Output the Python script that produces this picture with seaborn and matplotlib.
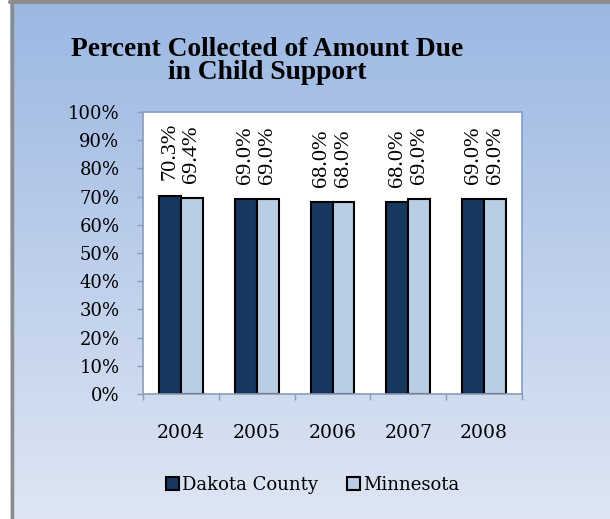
import numpy as np
import pandas as pd
import matplotlib
matplotlib.use("Agg")
import matplotlib.pyplot as plt
from matplotlib.patches import Patch
import seaborn as sns

# Collection rates, percent of amount due
years = ["2004", "2005", "2006", "2007", "2008"]
dakota = [70.3, 69.0, 68.0, 68.0, 69.0]
minnesota = [69.4, 69.0, 68.0, 69.0, 69.0]
series_names = ["Dakota County", "Minnesota"]
y_ticks = [0, 10, 20, 30, 40, 50, 60, 70, 80, 90, 100]

df = pd.DataFrame({
    "Year": years * 2,
    "Percent": dakota + minnesota,
    "Area": [series_names[0]] * len(years) + [series_names[1]] * len(years),
})

sns.set_theme(style="white")
plt.rcParams["font.family"] = ["DejaVu Serif"]
plt.rcParams["text.color"] = "black"
plt.rcParams["xtick.color"] = "black"
plt.rcParams["ytick.color"] = "black"

W, H = 610, 519
fig = plt.figure(figsize=(W / 100, H / 100), dpi=100)
fig.patch.set_facecolor("white")

# Gradient chart background with a gray frame on the top and left
bg = fig.add_axes([10 / W, 0, 1 - 10 / W, 1])
top_c = np.array([155, 183, 227]) / 255
bot_c = np.array([222, 230, 243]) / 255
t = np.linspace(0, 1, 256)[:, None]
grad = top_c[None, None, :] * (1 - t[..., None]) + bot_c[None, None, :] * t[..., None]
grad = np.repeat(grad, 2, axis=1)
bg.imshow(grad, aspect="auto", extent=[0, 1, 0, 1], origin="upper")
bg.set_xlim(0, 1)
bg.set_ylim(0, 1)
bg.axis("off")
fig.add_artist(plt.Line2D([11.5 / W, 11.5 / W], [0, 1], transform=fig.transFigure,
                          color="#8c8c8c", lw=2.5))
fig.add_artist(plt.Line2D([10 / W, 1], [1 - 1.5 / H, 1 - 1.5 / H], transform=fig.transFigure,
                          color="#8c8c8c", lw=3))

ax = fig.add_axes([143 / W, 1 - 394 / H, (522 - 143) / W, (394 - 112) / H])
ax.set_facecolor("white")

palette = {series_names[0]: "#17375E", series_names[1]: "#B9CDE5"}
sns.barplot(data=df, x="Year", y="Percent", hue="Area", palette=palette,
            width=0.58, gap=0, edgecolor="black", linewidth=1.5,
            saturation=1, ax=ax, legend=False)

ax.set_ylim(0, 100)
ax.set_xlim(-0.5, len(years) - 0.5)
ax.set_yticks(y_ticks)
ax.set_yticklabels([f"{v}%" for v in y_ticks], fontsize=13)
ax.set_xlabel("")
ax.set_ylabel("")
ax.tick_params(axis="y", length=4, width=1, color="#8a9cb8", pad=13, left=True,
               direction="out", labelcolor="black")
ax.set_xticks([i - 0.5 for i in range(len(years) + 1)], minor=False)
ax.set_xticklabels([])
ax.set_xticks(range(len(years)), minor=True)
ax.set_xticklabels(years, minor=True, fontsize=13.5)
ax.tick_params(axis="x", which="major", length=4, width=1, color="#8a9cb8", bottom=True, direction="out")
ax.tick_params(axis="x", which="minor", length=0, pad=21.5, labelcolor="black")
for side, sp in ax.spines.items():
    sp.set_visible(True)
    sp.set_linewidth(1.2)
    sp.set_color("#8a9cb8" if side in ("left", "bottom") else "#7f9fcf")

# Rotated value labels above each bar
for cont in ax.containers:
    for bar in cont:
        h = bar.get_height()
        ax.annotate(f"{h:.1f}%", (bar.get_x() + bar.get_width() / 2, h),
                    xytext=(0, 11), textcoords="offset points",
                    rotation=90, ha="center", va="bottom", color="black",
                    fontsize=16, family="Liberation Serif")

fig.text(267 / W, 1 - 61 / H, "Percent Collected of Amount Due\nin Child Support",
         ha="center", va="center", fontsize=19.8, fontweight="bold",
         family="Liberation Serif", color="black", linespacing=0.92)

handles = [Patch(facecolor=palette[n], edgecolor="black", linewidth=1.5) for n in series_names]
fig.legend(handles, series_names, loc="center", bbox_to_anchor=(313 / W, 1 - 485 / H),
           ncol=2, frameon=False, fontsize=13, handlelength=0.7, handleheight=0.7,
           handletextpad=0.2, columnspacing=1.6, labelcolor="black")

fig.savefig("out.png", dpi=100)
